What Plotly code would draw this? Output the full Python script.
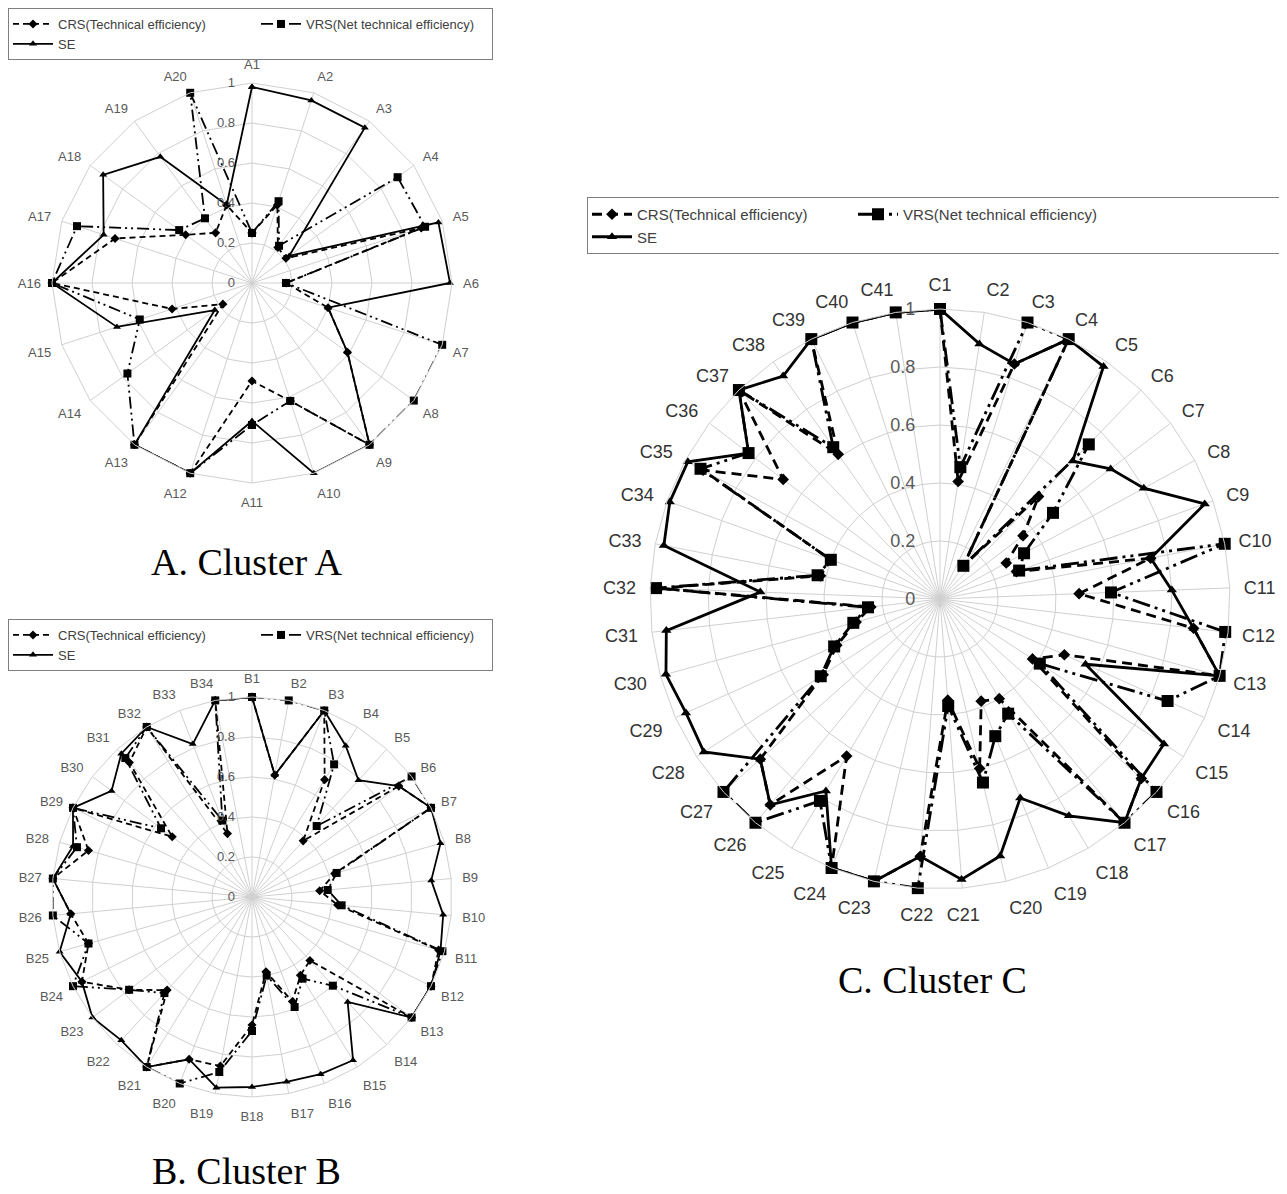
import plotly.graph_objects as go

# page is drawn with the default 8px body margin: work in page pixels, shift by OFF
OFF = 8
W, H = 1287 - OFF, 1194 - OFF

# ---------------- data ----------------
A_cats = ["A1", "A2", "A3", "A4", "A5", "A6", "A7", "A8", "A9", "A10",
          "A11", "A12", "A13", "A14", "A15", "A16", "A17", "A18", "A19", "A20"]
A_crs = [0.25, 0.41, 0.22, 0.21, 0.89, 0.17, 0.40, 0.59, 1.00, 0.62,
         0.49, 1.00, 1.00, 0.18, 0.42, 1.00, 0.72, 0.41, 0.31, 0.41]
A_vrs = [0.25, 0.43, 0.23, 0.90, 0.91, 0.17, 1.00, 1.00, 1.00, 0.62,
         0.71, 1.00, 1.00, 0.77, 0.59, 1.00, 0.92, 0.45, 0.40, 1.00]
A_se = [0.98, 0.96, 0.96, 0.23, 0.98, 0.99, 0.40, 0.59, 1.00, 1.00,
        0.69, 1.00, 1.00, 0.23, 0.71, 1.00, 0.78, 0.92, 0.78, 0.41]

B_cats = ["B1", "B2", "B3", "B4", "B5", "B6", "B7", "B8", "B9", "B10",
          "B11", "B12", "B13", "B14", "B15", "B16", "B17", "B18", "B19", "B20",
          "B21", "B22", "B23", "B24", "B25", "B26", "B27", "B28", "B29", "B30",
          "B31", "B32", "B33", "B34"]
B_crs = [1.00, 0.62, 1.00, 0.69, 0.38, 0.92, 1.00, 0.43, 0.34, 0.43,
         0.97, 1.00, 1.00, 0.43, 0.46, 0.56, 0.38, 0.64, 0.86, 0.87,
         1.00, 0.63, 0.77, 0.95, 0.85, 0.91, 1.00, 0.85, 1.00, 0.50,
         0.91, 1.00, 0.34, 1.00]
B_vrs = [1.00, 1.00, 1.00, 0.78, 0.48, 1.00, 1.00, 0.44, 0.38, 0.45,
         0.99, 1.00, 1.00, 0.60, 0.48, 0.59, 0.40, 0.67, 0.89, 1.00,
         1.00, 0.65, 0.77, 1.00, 0.85, 1.00, 1.00, 0.91, 1.00, 0.57,
         0.94, 1.00, 0.41, 1.00]
B_se = [1.00, 0.62, 1.00, 0.89, 0.79, 0.92, 1.00, 0.98, 0.90, 0.96,
        0.98, 1.00, 1.00, 0.71, 0.96, 0.95, 0.94, 0.95, 0.97, 0.87,
        1.00, 0.97, 1.00, 0.95, 1.00, 0.91, 1.00, 0.93, 1.00, 0.88,
        0.97, 1.00, 0.82, 1.00]

C_cats = ["C1", "C2", "C3", "C4", "C5", "C6", "C7", "C8", "C9", "C10",
          "C11", "C12", "C13", "C14", "C15", "C16", "C17", "C18", "C19", "C20",
          "C21", "C22", "C23", "C24", "C25", "C26", "C27", "C28", "C29", "C30",
          "C31", "C32", "C33", "C34", "C35", "C36", "C37", "C38", "C39", "C40", "C41"]
C_crs = [1.00, 0.41, 0.85, 1.00, 0.14, 0.49, 0.36, 0.26, 0.28, 0.74,
         0.48, 0.88, 1.00, 0.47, 0.38, 0.93, 1.00, 0.40, 0.38, 0.60,
         0.35, 0.89, 1.00, 1.00, 0.63, 0.92, 0.83, 0.48, 0.39, 0.30,
         0.24, 0.97, 0.42, 0.40, 0.93, 0.68, 1.00, 0.61, 1.00, 1.00, 1.00]
C_vrs = [1.00, 0.46, 1.00, 1.00, 0.14, 0.74, 0.49, 0.33, 0.29, 1.00,
         0.59, 0.99, 1.00, 0.86, 0.41, 1.00, 1.00, 0.46, 0.51, 0.65,
         0.37, 1.00, 1.00, 1.00, 0.81, 1.00, 1.00, 0.49, 0.40, 0.31,
         0.25, 0.98, 0.43, 0.40, 0.94, 0.83, 1.00, 0.64, 1.00, 1.00, 1.00]
C_se = [1.00, 0.89, 0.85, 1.00, 0.98, 0.66, 0.74, 0.80, 0.97, 0.74,
        0.80, 0.88, 1.00, 0.55, 0.92, 0.93, 1.00, 0.87, 0.74, 0.91,
        0.97, 0.89, 1.00, 1.00, 0.77, 0.92, 0.83, 0.97, 0.96, 0.98,
        0.95, 0.62, 0.97, 0.99, 0.99, 0.83, 1.00, 0.94, 1.00, 1.00, 1.00]

radial_ticks = [0, 0.2, 0.4, 0.6, 0.8, 1]
radial_labels = ["0", "0.2", "0.4", "0.6", "0.8", "1"]
series_names = ["CRS(Technical efficiency)", "VRS(Net technical efficiency)", "SE"]
titles = ["A. Cluster A", "B. Cluster B", "C. Cluster C"]

# ---------------- styling ----------------
FONT = "Liberation Sans, Arial, sans-serif"
SERIF = "Liberation Serif, Times New Roman, serif"
GRID = "#d0d0d0"
CLEAR = "rgba(0,0,0,0)"


def closed(v):
    return list(v) + [v[0]]


def px_x(x):
    return (x - OFF) / W


def px_y(y):
    return 1 - (y - OFF) / H


def dom(cx, cy, r):
    return dict(x=[px_x(cx - r), px_x(cx + r)], y=[px_y(cy + r), px_y(cy - r)])


def polar_cfg(d, rad_size, rad_pad, ang_size, ang_color, standoff):
    return dict(
        domain=d,
        gridshape="linear",
        bgcolor="white",
        radialaxis=dict(range=[0, 1], tickvals=radial_ticks, ticktext=radial_labels,
                        angle=90, side="counterclockwise", tickangle=90,
                        showline=False, gridcolor=GRID, gridwidth=1,
                        ticks="outside", ticklen=rad_pad, tickcolor=CLEAR,
                        tickfont=dict(family=FONT, size=rad_size, color="#595959")),
        angularaxis=dict(type="category", direction="clockwise", rotation=90,
                         showline=True, linecolor=GRID, linewidth=1,
                         gridcolor=GRID, gridwidth=1,
                         ticks="outside", ticklen=standoff, tickcolor=CLEAR,
                         tickfont=dict(family=FONT, size=ang_size, color=ang_color)),
    )


def legend_cfg(x, y, size):
    return dict(x=px_x(x), y=px_y(y), xanchor="left", yanchor="top",
                orientation="h", traceorder="grouped", tracegroupgap=0,
                bordercolor="#7f7f7f", borderwidth=1, bgcolor="white",
                itemwidth=40,
                font=dict(family=FONT, size=size, color="#404040"))


fig = go.Figure()

charts = [
    dict(cats=A_cats, crs=A_crs, vrs=A_vrs, se=A_se, subplot="polar", legend="legend",
         lw=1.8, ms=(7, 8, 7), lwid=(193, 181), dash=("6px,4px", "12px,4px,2px,4px,2px,4px")),
    dict(cats=B_cats, crs=B_crs, vrs=B_vrs, se=B_se, subplot="polar2", legend="legend2",
         lw=1.8, ms=(7, 8, 7), lwid=(193, 181), dash=("6px,4px", "12px,4px,2px,4px,2px,4px")),
    dict(cats=C_cats, crs=C_crs, vrs=C_vrs, se=C_se, subplot="polar3", legend="legend3",
         lw=2.8, ms=(9, 12, 9), lwid=(211, 371), dash=("10px,6px", "18px,5px,3px,5px,3px,5px")),
]

for i, c in enumerate(charts):
    g1, g2 = f"g{i}a", f"g{i}b"
    fig.add_trace(go.Scatterpolar(
        r=closed(c["crs"]), theta=closed(c["cats"]), subplot=c["subplot"], legend=c["legend"],
        name=series_names[0], legendgroup=g1, legendwidth=c["lwid"][0], mode="lines+markers",
        line=dict(color="black", width=c["lw"], dash=c["dash"][0]),
        marker=dict(symbol="diamond", size=c["ms"][0], color="black")))
    fig.add_trace(go.Scatterpolar(
        r=closed(c["vrs"]), theta=closed(c["cats"]), subplot=c["subplot"], legend=c["legend"],
        name=series_names[1], legendgroup=g2, legendwidth=c["lwid"][1], mode="lines+markers",
        line=dict(color="black", width=c["lw"], dash=c["dash"][1]),
        marker=dict(symbol="square", size=c["ms"][1], color="black")))
    fig.add_trace(go.Scatterpolar(
        r=closed(c["se"]), theta=closed(c["cats"]), subplot=c["subplot"], legend=c["legend"],
        name=series_names[2], legendgroup=g1, legendwidth=c["lwid"][0], mode="lines+markers",
        line=dict(color="black", width=c["lw"], dash="solid"),
        marker=dict(symbol="triangle-up", size=c["ms"][2], color="black")))


def title_ann(text, x, y):
    return dict(text=text, x=px_x(x), y=px_y(y), xref="paper", yref="paper",
                xanchor="center", yanchor="middle", showarrow=False,
                font=dict(family=SERIF, size=38, color="black"))


fig.update_layout(
    width=W, height=H,
    margin=dict(l=0, r=0, t=0, b=0, autoexpand=False),
    paper_bgcolor="white",
    plot_bgcolor="white",
    polar=polar_cfg(dom(252, 283, 200), 13, 12, 13, "#595959", 8),
    polar2=polar_cfg(dom(252, 897, 200), 13, 12, 13, "#595959", 8),
    polar3=polar_cfg(dom(940, 599, 290), 18, 18, 18, "#333333", 10),
    legend=legend_cfg(8, 8, 13),
    legend2=legend_cfg(8, 619, 13),
    legend3=legend_cfg(587, 197, 15),
    annotations=[
        title_ann(titles[0], 247, 562),
        title_ann(titles[1], 246, 1171),
        title_ann(titles[2], 933, 980),
    ],
)

fig.write_html("out.html")
